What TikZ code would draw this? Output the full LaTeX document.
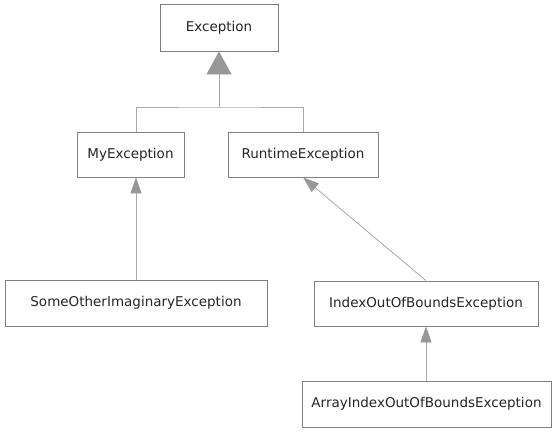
\documentclass[tikz,border=0pt]{standalone}
\usepackage{fontspec}
\setmainfont{DejaVu Sans}
\usetikzlibrary{arrows.meta,shadows}
\definecolor{boxline}{HTML}{808080}
\definecolor{shadowc}{HTML}{C8C8C8}
\definecolor{conn}{HTML}{A8A8A8}
\definecolor{tipc}{HTML}{989898}
\definecolor{txt}{HTML}{262626}
\begin{document}
\begin{tikzpicture}[x=1pt,y=-1pt,
  cls/.style={draw=boxline,line width=0.8pt,fill=white,rectangle,inner sep=0pt,
    text=txt,font=\fontsize{13.5}{16}\selectfont,
    drop shadow={shadow xshift=1.2pt,shadow yshift=-1.2pt,fill=shadowc,opacity=1}},
  conn/.style={draw=conn,line width=0.8pt},
  gen/.style={conn,-{Triangle[width=25pt,length=23pt,fill=tipc,color=tipc]}},
  inh/.style={conn,-{Triangle[width=11pt,length=16pt,fill=tipc,color=tipc]}}]
\useasboundingbox (0,0) rectangle (556,432);
\node[cls,minimum width=118pt,minimum height=47pt] (ex) at (219,27.5) {Exception};
\node[cls,minimum width=107pt,minimum height=45pt] (my) at (130.5,154.5) {MyException};
\node[cls,minimum width=150pt,minimum height=45pt] (rt) at (303,154.5) {RuntimeException};
\node[cls,minimum width=262pt,minimum height=46pt] (so) at (136,303) {SomeOtherImaginaryException};
\node[cls,minimum width=224pt,minimum height=45pt] (io) at (426,303.5) {IndexOutOfBoundsException};
\node[cls,minimum width=249pt,minimum height=46pt] (ai) at (426.5,404) {ArrayIndexOutOfBoundsException};
\coordinate (bar) at (219,107);
\draw[conn] (my.north -| so.north) |- (bar) -| (rt.north);
\draw[gen] (bar) -- (ex.south);
\draw[inh] (so.north) -- (so.north |- my.south);
\draw[inh] (io.north) -- (rt.south);
\draw[inh] (io.north |- ai.north) -- (io.south);
\end{tikzpicture}
\end{document}
